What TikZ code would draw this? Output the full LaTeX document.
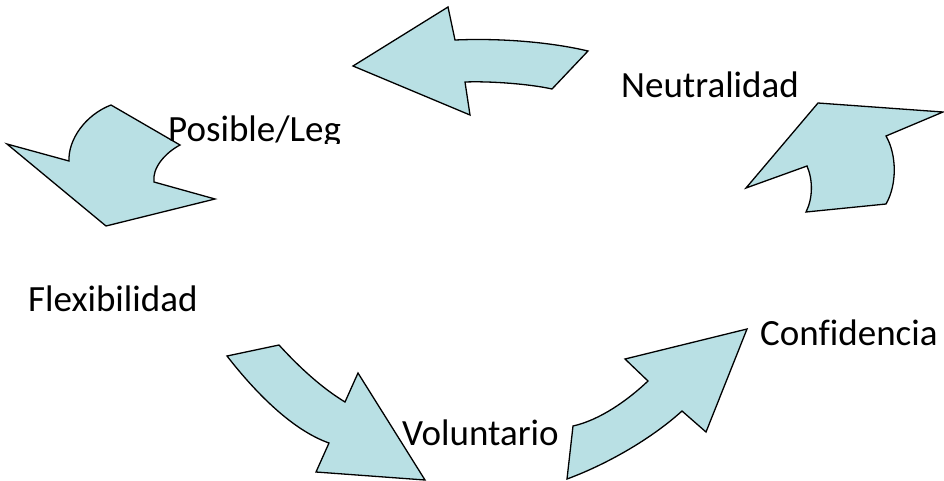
\documentclass[tikz,border=0pt]{standalone}
\usepackage{fontspec}
\setmainfont{Carlito}[Ligatures=NoCommon]
\definecolor{arrowfill}{RGB}{185,224,228}
\begin{document}
\begin{tikzpicture}[x=1pt,y=-1pt,
  bigarrow/.style={fill=arrowfill,draw=black,line width=1.3pt,line join=miter},
  lbl/.style={anchor=base west,inner sep=0pt,font=\fontsize{37}{42}\selectfont}]
\useasboundingbox (0,0) rectangle (944,480);

% top arrow, pointing left
\path[bigarrow] (353,66) -- (448,7) -- (455,40)
  .. controls (500,38) and (550,42) .. (588,51)
  -- (552,89)
  .. controls (530,84) and (490,81) .. (465,82)
  -- (470,115) -- cycle;

% upper left arrow, pointing down
\path[bigarrow] (111,105) -- (180,145)
  .. controls (165,153) and (152,168) .. (154,182)
  -- (215,199) -- (106,226) -- (7,144) -- (69,161)
  .. controls (68,140) and (85,115) .. (111,105) -- cycle;

% upper right arrow, pointing up
\path[bigarrow] (818,103) -- (943,112) -- (886,136)
  .. controls (897,155) and (897,185) .. (886,204)
  -- (806,212)
  .. controls (813,198) and (813,180) .. (807,166)
  -- (746,188) -- cycle;

% lower left arrow, pointing down-right
\path[bigarrow] (227,356) -- (279,345)
  .. controls (300,368) and (322,388) .. (345,402)
  -- (358,373) -- (425,480) -- (316,472) -- (329,443)
  .. controls (292,430) and (255,392) .. (227,356) -- cycle;

% lower right arrow, pointing up-right
\path[bigarrow] (573,426)
  .. controls (600,420) and (628,400) .. (648,381)
  -- (625,359) -- (747,329) -- (706,432) -- (682,411)
  .. controls (650,440) and (605,465) .. (567,479) -- cycle;

% labels
\node[lbl] (neutral) at (621,97) {Neutralidad};
\begin{scope}
  \clip (0,0) rectangle (944,143);
  \node[lbl] (posible) at (168,141) {Posible/Leg};
\end{scope}
\node[lbl] (flex) at (28,311) {Flexibilidad};
\node[lbl] (volunt) at (402,445) {Voluntario};
\node[lbl] (conf) at (760,345) {Confidencia};
\end{tikzpicture}
\end{document}
